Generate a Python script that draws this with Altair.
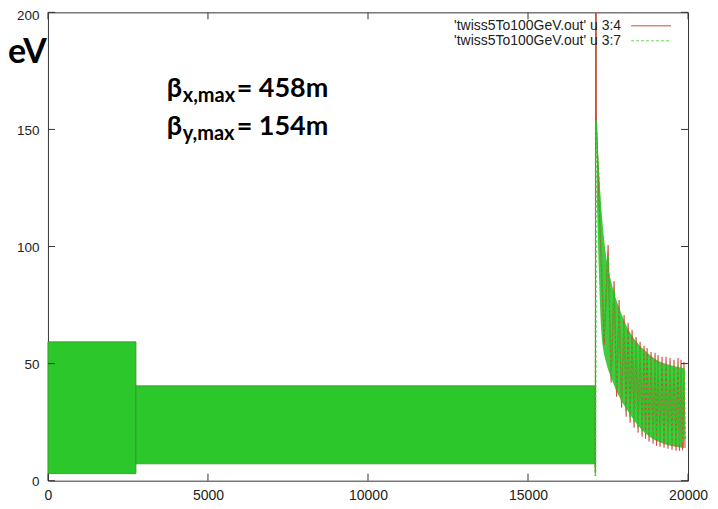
import altair as alt
import pandas as pd

# ---------------- data ----------------
x_ticks = [0, 5000, 10000, 15000, 20000]
y_ticks = [0, 50, 100, 150, 200]

# dense FODO oscillation regions drawn as min/max bands
band_start = [0, 2750]
band_end = [2750, 17100]
band_low = [3.0, 7.2]
band_high = [59.3, 40.5]

# beta_x  ('u 3:4', red)
red_s = [17098, 17105, 17118, 17135, 17200,
         17378, 17503, 17597, 17690, 17768, 17846, 17924, 18002, 18065, 18127,
         18190, 18252, 18314, 18377, 18439, 18502, 18564, 18626, 18673, 18720,
         18782, 18845, 18907, 18970, 19016, 19063, 19126, 19188, 19250, 19313,
         19375, 19438, 19500, 19562, 19625, 19687, 19734, 19781, 19828, 19874,
         19906]
red_beta = [7.0, 3.0, 458.0, 156.0, 128.0,
            58.0, 100.6, 41.8, 85.3, 35.8, 77.2, 31.1, 70.8, 27.3, 67.4,
            24.7, 64.4, 22.6, 61.4, 20.5, 59.3, 18.8, 57.6, 17.9, 56.7,
            16.6, 55.0, 15.8, 54.6, 14.9, 53.7, 14.5, 52.9, 14.1, 52.9,
            13.6, 52.4, 13.2, 51.6, 12.8, 52.4, 12.8, 51.6, 13.0, 50.7,
            14.0]

# beta_y  ('u 3:7', green)
green_s = [17098, 17108, 17124, 17160, 17210,
           17378, 17503, 17597, 17690, 17768, 17846, 17924, 18002, 18065, 18127,
           18190, 18252, 18314, 18377, 18439, 18502, 18564, 18626, 18673, 18720,
           18782, 18845, 18907, 18970, 19016, 19063, 19126, 19188, 19250, 19313,
           19375, 19438, 19500, 19562, 19625, 19687, 19734, 19781, 19828, 19874,
           19906]
green_beta = [7.0, 2.0, 154.0, 140.0, 129.0,
              61, 96, 45, 81, 39, 73, 34, 67, 30, 63,
              27, 60, 25, 58, 23, 56, 21, 55, 20, 53,
              19, 52, 18, 51, 17.5, 50, 17, 49.5, 16.5, 49.5,
              16, 49, 15.5, 48.5, 15.5, 49, 15.5, 48.5, 16, 47.5,
              17]

# dense part of the decaying region (filled band)
env_s = [17150, 17300, 17450, 17600, 17846, 18158, 18470, 18782, 19094, 19406, 19874]
env_low = [120, 62, 50, 44, 36, 29, 23, 19, 16.5, 15, 14]
env_high = [150, 115, 95, 85, 74, 64, 58, 54, 51, 49.5, 48]

legend_labels = ["'twiss5To100GeV.out' u 3:4", "'twiss5To100GeV.out' u 3:7"]

# ---------------- chart ----------------
W, H = 641, 469
RED = "#c8503c"
GREEN = "#22cc22"
BAND = "#2bc72b"
AXFONT = "Liberation Sans"
NOTEFONT = "Lato"

xs = alt.Scale(domain=[0, 20000], nice=False, zero=False)
ys = alt.Scale(domain=[0, 200], nice=False, zero=False)
x_axis = alt.Axis(values=x_ticks, format="d", title=None, grid=False, ticks=False,
                  tickSize=0, domain=False, labelFont=AXFONT, labelFontSize=14,
                  labelColor="#222", labelPadding=8, labelFlush=False,
                  labelOverlap=False)
y_axis = alt.Axis(values=y_ticks, format="d", title=None, grid=False, ticks=False,
                  tickSize=0, domain=False, labelFont=AXFONT, labelFontSize=13.5,
                  labelColor="#222", labelPadding=9, labelFlush=False,
                  labelOverlap=False,
                  labelOffset={"condition": {"test": "datum.value == 200",
                                             "value": 3.5},
                               "value": 1})

bands_df = pd.DataFrame({"s0": band_start, "s1": band_end,
                         "lo": band_low, "hi": band_high})
red_df = pd.DataFrame({"s": red_s, "v": red_beta})
green_df = pd.DataFrame({"s": green_s, "v": green_beta})
env_df = pd.DataFrame({"s": env_s, "lo": env_low, "hi": env_high})
xt_df = pd.DataFrame({"s": x_ticks})
yt_df = pd.DataFrame({"v": y_ticks})
one = pd.DataFrame({"a": [0]})

bands = alt.Chart(bands_df).mark_rect(color=BAND, stroke="#3f8f2a",
                                      strokeWidth=0.8).encode(
    x=alt.X("s0:Q", scale=xs, axis=x_axis),
    x2="s1:Q",
    y=alt.Y("lo:Q", scale=ys, axis=y_axis),
    y2="hi:Q",
)

env = alt.Chart(env_df).mark_area(color=BAND, opacity=0.9,
                                  interpolate="monotone").encode(
    x=alt.X("s:Q", scale=xs, axis=x_axis),
    y=alt.Y("lo:Q", scale=ys, axis=y_axis),
    y2="hi:Q",
)

red_line = alt.Chart(red_df).mark_line(color=RED, strokeWidth=1.1,
                                       clip=True).encode(
    x=alt.X("s:Q", scale=xs, axis=x_axis),
    y=alt.Y("v:Q", scale=ys, axis=y_axis),
    order="s:Q",
)

green_line = alt.Chart(green_df).mark_line(color=GREEN, strokeWidth=1.6,
                                           strokeDash=[3, 2],
                                           clip=True).encode(
    x=alt.X("s:Q", scale=xs, axis=x_axis),
    y=alt.Y("v:Q", scale=ys, axis=y_axis),
    order="s:Q",
)

TICK = "#333"
xt_bottom = alt.Chart(xt_df).mark_rule(color=TICK, strokeWidth=1).encode(
    x=alt.X("s:Q", scale=xs, axis=x_axis), y=alt.value(H), y2=alt.value(H - 7))
xt_top = alt.Chart(xt_df).mark_rule(color=TICK, strokeWidth=1).encode(
    x=alt.X("s:Q", scale=xs, axis=x_axis), y=alt.value(0), y2=alt.value(7))
yt_left = alt.Chart(yt_df).mark_rule(color=TICK, strokeWidth=1).encode(
    y=alt.Y("v:Q", scale=ys, axis=y_axis), x=alt.value(0), x2=alt.value(7))
yt_right = alt.Chart(yt_df).mark_rule(color=TICK, strokeWidth=1).encode(
    y=alt.Y("v:Q", scale=ys, axis=y_axis), x=alt.value(W), x2=alt.value(W - 7))

# legend (gnuplot key, top right inside the frame)
leg1_t = alt.Chart(one).mark_text(font=AXFONT, fontSize=14, color="#222",
                                  align="right", baseline="middle").encode(
    x=alt.value(574), y=alt.value(14), text=alt.value(legend_labels[0]))
leg2_t = alt.Chart(one).mark_text(font=AXFONT, fontSize=14, color="#222",
                                  align="right", baseline="middle").encode(
    x=alt.value(574), y=alt.value(28.5), text=alt.value(legend_labels[1]))
leg1_l = alt.Chart(one).mark_rule(color=RED, strokeWidth=1).encode(
    x=alt.value(584), x2=alt.value(624), y=alt.value(13.5))
leg2_l = alt.Chart(one).mark_rule(color="#66d655", strokeWidth=1,
                                  strokeDash=[3, 2]).encode(
    x=alt.value(584), x2=alt.value(624), y=alt.value(28.5))

# annotations
def note(txt, x, y, size, align="left"):
    return alt.Chart(one).mark_text(font=NOTEFONT, fontSize=size,
                                    fontWeight="bold", color="#000",
                                    align=align,
                                    baseline="alphabetic").encode(
        x=alt.value(x), y=alt.value(y), text=alt.value(txt))

notes = [
    note("eV", -1, 51, 34, align="right"),
    note("β", 119, 85, 27),
    note("x,max", 135, 90, 20),
    note("= 458m", 189, 85, 27),
    note("β", 119, 123, 27),
    note("y,max", 135, 128, 20),
    note("= 154m", 189, 123, 27),
]

chart = alt.layer(
    bands, env, red_line, green_line,
    xt_bottom, xt_top, yt_left, yt_right,
    leg1_l, leg2_l, leg1_t, leg2_t,
    *notes,
).properties(
    width=W, height=H,
    autosize=alt.AutoSizeParams(type="none"),
    padding={"left": 40, "top": 4, "right": 22, "bottom": 24},
    background="white",
).configure_view(
    stroke="#333", strokeWidth=1
)

chart.save("out.html", embed_options={"renderer": "svg", "actions": False})
